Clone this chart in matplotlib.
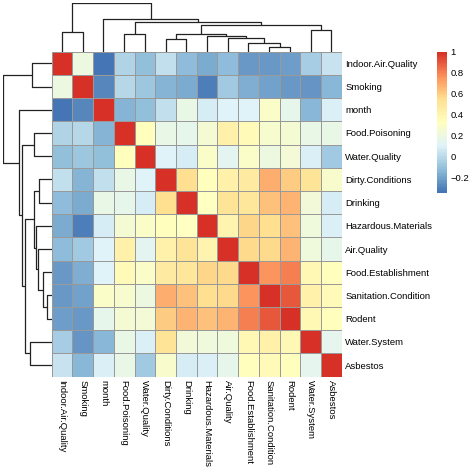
import numpy as np
import matplotlib
matplotlib.use('Agg')
import matplotlib.pyplot as plt
from matplotlib.colors import LinearSegmentedColormap, ListedColormap
from matplotlib.cm import ScalarMappable
from matplotlib.colors import Normalize

plt.rcParams['font.family'] = ['Liberation Sans', 'DejaVu Sans']

# labels in clustered order
LABELS = ['Indoor.Air.Quality', 'Smoking', 'month', 'Food.Poisoning', 'Water.Quality',
          'Dirty.Conditions', 'Drinking', 'Hazardous.Materials', 'Air.Quality',
          'Food.Establishment', 'Sanitation.Condition', 'Rodent', 'Water.System', 'Asbestos']

# correlation matrix, rows/cols in the same order as LABELS
CORR = [
    [1.00, 0.20, -0.34, -0.02, -0.10, 0.03, -0.12, -0.17, -0.12, -0.22, -0.22, -0.20, -0.05, 0.04],
    [0.20, 1.00, -0.28, -0.01, -0.09, -0.15, -0.17, -0.31, -0.08, -0.17, -0.20, -0.23, -0.24, -0.13],
    [-0.34, -0.28, 1.00, -0.14, -0.11, 0.03, 0.18, 0.08, 0.12, 0.11, 0.30, 0.16, -0.13, 0.10],
    [-0.02, -0.01, -0.14, 1.00, 0.33, 0.18, 0.16, 0.25, 0.43, 0.36, 0.28, 0.26, 0.18, 0.17],
    [-0.11, -0.08, -0.11, 0.33, 1.00, 0.11, 0.08, 0.30, 0.14, 0.30, 0.21, 0.24, 0.09, -0.06],
    [0.03, -0.15, 0.03, 0.18, 0.11, 1.00, 0.55, 0.33, 0.43, 0.47, 0.68, 0.60, 0.53, 0.28],
    [-0.13, -0.17, 0.18, 0.16, 0.08, 0.55, 1.00, 0.33, 0.52, 0.50, 0.63, 0.67, 0.23, 0.08],
    [-0.18, -0.31, 0.08, 0.25, 0.30, 0.33, 0.32, 1.00, 0.41, 0.58, 0.55, 0.63, 0.21, 0.09],
    [-0.12, -0.06, 0.11, 0.43, 0.14, 0.43, 0.52, 0.41, 1.00, 0.57, 0.57, 0.66, 0.21, 0.16],
    [-0.22, -0.15, 0.12, 0.36, 0.30, 0.47, 0.49, 0.58, 0.57, 1.00, 0.75, 0.80, 0.38, 0.34],
    [-0.22, -0.19, 0.30, 0.26, 0.20, 0.68, 0.63, 0.56, 0.56, 0.75, 1.00, 0.90, 0.43, 0.40],
    [-0.23, -0.23, 0.16, 0.25, 0.24, 0.60, 0.67, 0.64, 0.67, 0.80, 0.90, 1.00, 0.38, 0.34],
    [-0.05, -0.24, -0.13, 0.18, 0.09, 0.53, 0.23, 0.22, 0.22, 0.37, 0.43, 0.38, 1.00, 0.15],
    [0.04, -0.13, 0.10, 0.17, -0.06, 0.28, 0.08, 0.09, 0.16, 0.34, 0.33, 0.34, 0.15, 1.00],
]

# hclust merges (left, right, height); ids >= 14 are earlier merges (14 + index)
MERGES = [
    (10, 11, 0.13),
    (9, 14, 0.25),
    (8, 15, 0.41),
    (7, 16, 0.47),
    (5, 6, 0.37),
    (18, 17, 0.53),
    (3, 4, 0.52),
    (0, 1, 0.58),
    (12, 13, 0.63),
    (19, 22, 0.79),
    (20, 23, 0.87),
    (2, 24, 0.97),
    (21, 25, 1.45),
]

CB_TICKS = [-0.2, 0, 0.2, 0.4, 0.6, 0.8, 1]

corr = np.array(CORR)
corr = (corr + corr.T) / 2
n = len(LABELS)

# pheatmap default palette
base = ['#4575B4', '#91BFDB', '#E0F3F8', '#FFFFBF', '#FEE090', '#FC8D59', '#D73027']
cmap = ListedColormap(LinearSegmentedColormap.from_list('rdylbu', base)(np.linspace(0, 1, 100)))
vmin, vmax = corr.min(), corr.max()

W = 473.0


def box(x0, y0, x1, y1):
    # pixel box (from top-left) -> figure fraction
    return [x0 / W, 1 - y1 / W, (x1 - x0) / W, (y1 - y0) / W]


def draw_tree(ax, orient):
    pos = {i: i + 0.5 for i in range(n)}
    hgt = {i: 0.0 for i in range(n)}
    for k, (a, b, h) in enumerate(MERGES):
        xs = [pos[a], pos[a], pos[b], pos[b]]
        ys = [hgt[a], h, h, hgt[b]]
        if orient == 'top':
            ax.plot(xs, ys, color='#222222', lw=0.9, solid_capstyle='butt')
        else:
            ax.plot(ys, xs, color='#222222', lw=0.9, solid_capstyle='butt')
        pos[n + k] = (pos[a] + pos[b]) / 2
        hgt[n + k] = h
    top = max(m[2] for m in MERGES)
    if orient == 'top':
        ax.set_xlim(0, n)
        ax.set_ylim(0, top)
    else:
        ax.set_ylim(n, 0)
        ax.set_xlim(top, 0)
    ax.axis('off')


fig = plt.figure(figsize=(4.73, 4.73), dpi=100)

hx0, hy0, hx1, hy1 = 51.7, 51.7, 341.7, 376.7
ax = fig.add_axes(box(hx0, hy0, hx1, hy1))
ax.pcolormesh(np.arange(n + 1), np.arange(n + 1), corr, cmap=cmap, vmin=vmin, vmax=vmax,
              edgecolors='#999999', linewidth=0.7)
ax.set_xlim(0, n)
ax.set_ylim(n, 0)
for s in ax.spines.values():
    s.set_visible(False)
ax.set_xticks(np.arange(n) + 0.5)
ax.set_xticklabels(LABELS, rotation=-90, fontsize=6.8)
ax.set_yticks(np.arange(n) + 0.5)
ax.set_yticklabels(LABELS, fontsize=6.8)
ax.yaxis.tick_right()
ax.tick_params(length=0, pad=2.6)

ax_top = fig.add_axes(box(hx0, 2.7, hx1, hy0))
draw_tree(ax_top, 'top')
ax_left = fig.add_axes(box(2.7, hy0, hx0, hy1))
draw_tree(ax_left, 'left')

cax = fig.add_axes(box(437.3, 51.7, 447.3, 192.7))
cb = fig.colorbar(ScalarMappable(norm=Normalize(vmin, vmax), cmap=cmap), cax=cax)
cb.outline.set_visible(False)
cb.set_ticks(CB_TICKS)
cb.set_ticklabels([('%g' % t).replace('-', '\u2212') for t in CB_TICKS])
cax.tick_params(length=0, pad=2.5, labelsize=6.8)

fig.savefig('out.png', dpi=100)
